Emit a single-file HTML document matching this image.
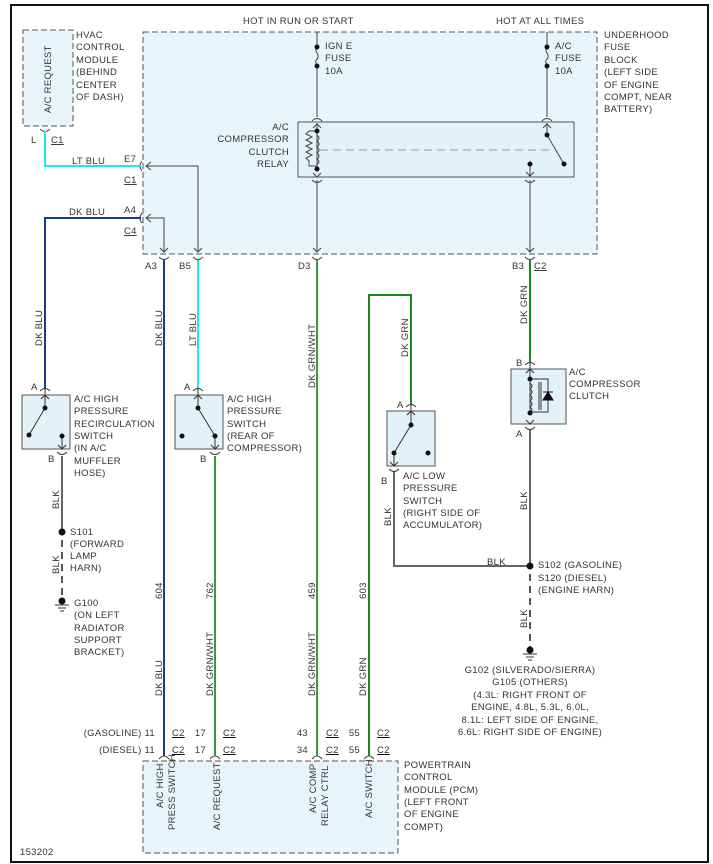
<!DOCTYPE html>
<html><head><meta charset="utf-8">
<style>
html,body{margin:0;padding:0;background:#fff;}
svg{display:block;}
text{font-family:"Liberation Sans",sans-serif;font-size:9.5px;fill:#333;letter-spacing:0.3px;}
</style></head><body>
<svg width="713" height="864" viewBox="0 0 713 864" xmlns="http://www.w3.org/2000/svg">
<rect x="0" y="0" width="713" height="864" fill="#fff"/>
<rect x="11" y="5" width="697" height="857" fill="#fff" stroke="#111" stroke-width="2"/>

<!-- modules -->
<rect x="23" y="30" width="50" height="96" fill="#e8f4fb" stroke="#555" stroke-dasharray="6,3"/>
<rect x="143" y="32" width="454" height="222" fill="#e8f4fb" stroke="#555" stroke-dasharray="6,3"/>
<rect x="143" y="761" width="255" height="92" fill="#e8f4fb" stroke="#555" stroke-dasharray="6,3"/>

<!-- relay -->
<rect x="298" y="122" width="276" height="55" fill="#e3f1f8" stroke="#555"/>
<line x1="320" y1="150" x2="552" y2="150" stroke="#999" stroke-dasharray="8,5"/>

<g stroke="#444" fill="none" stroke-width="1">
 <!-- IGN fuse line -->
 <line x1="317" y1="32" x2="317" y2="47"/>
 <path d="M317,47 c-4,4 4,8 0,12 c-3,3 0,5 0,7"/>
 <line x1="317" y1="66" x2="317" y2="117"/>
 <path d="M312,121 q5,-5 10,0"/>
 <line x1="317" y1="123" x2="317" y2="169"/>
 <path d="M313,128 l4,-4 4,4 M313,173 l4,4 4,-4"/>
 <path d="M317,131 h-8 l-3,3 6,3 -6,3 6,3 -6,3 6,3 -6,3 6,3 -6,3 3,3 v5 h8"/>
 <path d="M317,135 q4,3 0,6 q4,3 0,6 q4,3 0,6 q4,3 0,6 q4,3 0,5"/>
 <path d="M312,180 q5,5 10,0"/>
 <line x1="317" y1="180" x2="317" y2="252"/>
 <path d="M313,248 l4,4 4,-4"/>
 <path d="M312,257 q5,5 10,0"/>
 <!-- A/C fuse -->
 <line x1="547" y1="32" x2="547" y2="47"/>
 <path d="M547,47 c-4,4 4,8 0,12 c-3,3 0,5 0,7"/>
 <line x1="547" y1="66" x2="547" y2="117"/>
 <path d="M542,121 q5,-5 10,0"/>
 <line x1="547" y1="123" x2="547" y2="135"/>
 <path d="M543,128 l4,-4 4,4"/>
 <line x1="547" y1="135" x2="564" y2="164"/>
 <line x1="530" y1="164" x2="530" y2="176"/>
 <path d="M526,172 l4,4 4,-4"/>
 <path d="M525,180 q5,5 10,0"/>
 <line x1="530" y1="180" x2="530" y2="252"/>
 <path d="M526,248 l4,4 4,-4"/>
 <path d="M525,257 q5,5 10,0"/>
 <!-- E7 / A4 internal -->
 <path d="M146,166 H198 V252"/>
 <path d="M151,162 l-5,4 5,4 M194,248 l4,4 4,-4"/>
 <path d="M146,218 H164 V252"/>
 <path d="M151,214 l-5,4 5,4 M160,248 l4,4 4,-4"/>
 <path d="M142,161 q-4,5 0,10 M142,213 q-4,5 0,10"/>
 <path d="M159,257 q5,5 10,0 M193,257 q5,5 10,0"/>
 <path d="M40,129 q5,5 10,0"/>
 <!-- PCM pins -->
 <path d="M159,759 q5,-6 10,0 M210,759 q5,-6 10,0 M312,759 q5,-6 10,0 M364,759 q5,-6 10,0"/>
</g>
<g fill="#111">
 <circle cx="317" cy="47" r="2.5"/><circle cx="317" cy="66" r="2.5"/>
 <circle cx="547" cy="47" r="2.5"/><circle cx="547" cy="66" r="2.5"/>
 <circle cx="317" cy="131" r="2.5"/><circle cx="317" cy="169" r="2.5"/>
 <circle cx="547" cy="135" r="2.5"/><circle cx="564" cy="164" r="2.5"/><circle cx="530" cy="164" r="2.5"/>
</g>

<!-- wires -->
<g fill="none" stroke-width="2">
 <path d="M45,131 V166 H141" stroke="#19e8f0"/>
 <path d="M198,260 V388" stroke="#19e8f0"/>
 <path d="M141,218 H45 V388" stroke="#1a3a8c"/>
 <path d="M164,260 V756" stroke="#1a3a8c"/>
 <path d="M317,260 V756" stroke="#3a9a3a"/>
 <path d="M215,456 V756" stroke="#3a9a3a"/>
 <path d="M369,756 V295 H411 V404" stroke="#1a8a1a"/>
 <path d="M530,260 V362" stroke="#1a8a1a"/>
 <path d="M62,456 V532" stroke="#666"/>
 <path d="M394,472 V566 H530" stroke="#666"/>
 <path d="M530,430 V566" stroke="#666"/>
</g>
<g stroke="#555" stroke-width="2" stroke-dasharray="7,5" fill="none">
 <path d="M62,540 V598"/>
 <path d="M530,574 V648"/>
</g>

<!-- switch 1 -->
<rect x="22" y="395" width="48" height="54" fill="#e3f1f8" stroke="#555"/>
<rect x="175" y="395" width="48" height="54" fill="#e3f1f8" stroke="#555"/>
<rect x="387" y="411" width="48" height="55" fill="#e3f1f8" stroke="#555"/>
<rect x="511" y="369" width="55" height="55" fill="#e3f1f8" stroke="#555"/>
<g stroke="#333" fill="none" stroke-width="1">
 <path d="M40,391 q5,-5 10,0 M45,388 V408 M41,399 l4,-4 4,4 M45,408 L29,435 M62,436 V449 M58,445 l4,4 4,-4 M57,452 q5,5 10,0"/>
 <path d="M193,391 q5,-5 10,0 M198,388 V408 M194,399 l4,-4 4,4 M198,408 L215,436 V449 M211,445 l4,4 4,-4 M210,452 q5,5 10,0"/>
 <path d="M406,407 q5,-5 10,0 M411,404 V425 M407,415 l4,-4 4,4 M411,425 L394,453 V466 M390,462 l4,4 4,-4 M389,469 q5,5 10,0"/>
 <path d="M525,365 q5,-5 10,0 M530,362 V378 M526,373 l4,-4 4,4 M530,378 V413 M526,420 l4,4 4,-4 M525,427 q5,5 10,0"/>
 <path d="M530,379 h18 v33 h-18"/>
 <path d="M530,383 q4,3 0,6 q4,3 0,6 q4,3 0,6 q4,3 0,6 q4,3 0,5"/>
 <path d="M539,382 v28 M541,382 v28"/>
</g>
<path d="M543,400 h10 l-5,-8 z M543,392 h10" fill="#111" stroke="#111"/>
<g fill="#111">
 <circle cx="45" cy="408" r="2.5"/><circle cx="29" cy="435" r="2.5"/><circle cx="62" cy="436" r="2.5"/>
 <circle cx="198" cy="408" r="2.5"/><circle cx="182" cy="436" r="2.5"/><circle cx="215" cy="436" r="2.5"/>
 <circle cx="411" cy="425" r="2.5"/><circle cx="394" cy="453" r="2.5"/><circle cx="428" cy="453" r="2.5"/>
 <circle cx="530" cy="379" r="2.5"/><circle cx="530" cy="413" r="2.5"/>
 <circle cx="62" cy="532" r="3.5"/><circle cx="530" cy="566" r="3.5"/>
 <circle cx="62" cy="601" r="3.5"/><circle cx="530" cy="650" r="3.5"/>
</g>
<g stroke="#333">
 <path d="M55,605 h14 M58,608 h8 M60,611 h4"/>
 <path d="M523,654 h14 M526,657 h8 M528,660 h4"/>
</g>

<!-- text -->
<text x="243" y="24">HOT IN RUN OR START</text>
<text x="496" y="24">HOT AT ALL TIMES</text>
<text x="76" y="38">HVAC</text><text x="76" y="50">CONTROL</text><text x="76" y="63">MODULE</text><text x="76" y="75">(BEHIND</text><text x="76" y="88">CENTER</text><text x="76" y="100">OF DASH)</text>
<text transform="translate(51,113) rotate(-90)">A/C REQUEST</text>
<text x="325" y="49">IGN E</text><text x="325" y="61">FUSE</text><text x="325" y="74">10A</text>
<text x="555" y="49">A/C</text><text x="555" y="61">FUSE</text><text x="555" y="74">10A</text>
<text x="604" y="38">UNDERHOOD</text><text x="604" y="50">FUSE</text><text x="604" y="63">BLOCK</text><text x="604" y="75">(LEFT SIDE</text><text x="604" y="88">OF ENGINE</text><text x="604" y="100">COMPT, NEAR</text><text x="604" y="112">BATTERY)</text>
<g text-anchor="end"><text x="289" y="130">A/C</text><text x="289" y="142">COMPRESSOR</text><text x="289" y="155">CLUTCH</text><text x="289" y="167">RELAY</text></g>
<text x="31" y="143">L</text><text x="51" y="143" text-decoration="underline">C1</text>
<text x="72" y="164">LT BLU</text><text x="124" y="162">E7</text><text x="124" y="183" text-decoration="underline">C1</text>
<text x="69" y="215">DK BLU</text><text x="124" y="213">A4</text><text x="124" y="234" text-decoration="underline">C4</text>
<text x="145" y="269">A3</text><text x="179" y="269">B5</text><text x="298" y="269">D3</text><text x="512" y="269">B3</text><text x="534" y="269" text-decoration="underline">C2</text>
<text transform="translate(42,346) rotate(-90)">DK BLU</text>
<text transform="translate(162,346) rotate(-90)">DK BLU</text>
<text transform="translate(196,346) rotate(-90)">LT BLU</text>
<text transform="translate(315,388) rotate(-90)">DK GRN/WHT</text>
<text transform="translate(408,357) rotate(-90)">DK GRN</text>
<text transform="translate(527,324) rotate(-90)">DK GRN</text>
<text x="31" y="390">A</text><text x="184" y="390">A</text><text x="397" y="408">A</text><text x="516" y="366">B</text>
<text x="48" y="462">B</text><text x="200" y="462">B</text><text x="381" y="484">B</text><text x="516" y="437">A</text>
<text x="74" y="402">A/C HIGH</text><text x="74" y="414">PRESSURE</text><text x="74" y="427">RECIRCULATION</text><text x="74" y="439">SWITCH</text><text x="74" y="451">(IN A/C</text><text x="74" y="464">MUFFLER</text><text x="74" y="476">HOSE)</text>
<text x="227" y="402">A/C HIGH</text><text x="227" y="414">PRESSURE</text><text x="227" y="427">SWITCH</text><text x="227" y="439">(REAR OF</text><text x="227" y="451">COMPRESSOR)</text>
<text x="403" y="479">A/C LOW</text><text x="403" y="491">PRESSURE</text><text x="403" y="504">SWITCH</text><text x="403" y="516">(RIGHT SIDE OF</text><text x="403" y="528">ACCUMULATOR)</text>
<text x="569" y="375">A/C</text><text x="569" y="387">COMPRESSOR</text><text x="569" y="399">CLUTCH</text>
<text transform="translate(59,509) rotate(-90)">BLK</text>
<text transform="translate(59,574) rotate(-90)">BLK</text>
<text transform="translate(391,526) rotate(-90)">BLK</text>
<text transform="translate(527,510) rotate(-90)">BLK</text>
<text transform="translate(527,628) rotate(-90)">BLK</text>
<text x="487" y="565">BLK</text>
<text x="70" y="535">S101</text><text x="70" y="547">(FORWARD</text><text x="70" y="559">LAMP</text><text x="70" y="571">HARN)</text>
<text x="74" y="606">G100</text><text x="74" y="618">(ON LEFT</text><text x="74" y="631">RADIATOR</text><text x="74" y="643">SUPPORT</text><text x="74" y="655">BRACKET)</text>
<text x="538" y="568">S102 (GASOLINE)</text><text x="538" y="581">S120 (DIESEL)</text><text x="538" y="593">(ENGINE HARN)</text>
<g text-anchor="middle"><text x="530" y="673">G102 (SILVERADO/SIERRA)</text><text x="530" y="685">G105 (OTHERS)</text><text x="530" y="698">(4.3L: RIGHT FRONT OF</text><text x="530" y="710">ENGINE, 4.8L, 5.3L, 6.0L,</text><text x="530" y="723">8.1L: LEFT SIDE OF ENGINE,</text><text x="530" y="735">6.6L: RIGHT SIDE OF ENGINE)</text></g>
<text transform="translate(162,599) rotate(-90)">604</text>
<text transform="translate(213,599) rotate(-90)">762</text>
<text transform="translate(315,599) rotate(-90)">459</text>
<text transform="translate(366,599) rotate(-90)">603</text>
<text transform="translate(162,696) rotate(-90)">DK BLU</text>
<text transform="translate(213,696) rotate(-90)">DK GRN/WHT</text>
<text transform="translate(315,696) rotate(-90)">DK GRN/WHT</text>
<text transform="translate(366,696) rotate(-90)">DK GRN</text>
<g text-anchor="end"><text x="155" y="736">(GASOLINE) 11</text><text x="155" y="753">(DIESEL) 11</text>
<text x="206" y="736">17</text><text x="206" y="753">17</text><text x="308" y="736">43</text><text x="308" y="753">34</text><text x="360" y="736">55</text><text x="360" y="753">55</text></g>
<g text-decoration="underline"><text x="172" y="736">C2</text><text x="172" y="753">C2</text><text x="223" y="736">C2</text><text x="223" y="753">C2</text><text x="326" y="736">C2</text><text x="326" y="753">C2</text><text x="377" y="736">C2</text><text x="377" y="753">C2</text></g>
<text transform="translate(163,808) rotate(-90)">A/C HIGH</text>
<text transform="translate(175,830) rotate(-90)">PRESS SWITCH</text>
<text transform="translate(220,830) rotate(-90)">A/C REQUEST</text>
<text transform="translate(316,813) rotate(-90)">A/C COMP</text>
<text transform="translate(328,826) rotate(-90)">RELAY CTRL</text>
<text transform="translate(372,818) rotate(-90)">A/C SWITCH</text>
<text x="404" y="768">POWERTRAIN</text><text x="404" y="780">CONTROL</text><text x="404" y="793">MODULE (PCM)</text><text x="404" y="805">(LEFT FRONT</text><text x="404" y="817">OF ENGINE</text><text x="404" y="830">COMPT)</text>
<text x="20" y="855">153202</text>
</svg>
</body></html>
